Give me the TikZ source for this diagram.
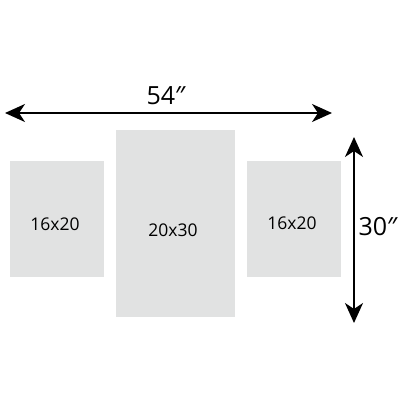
\documentclass[tikz,border=0pt]{standalone}
\usepackage{fontspec}
\setmainfont{Open Sans}
\newfontfamily\primefont{Noto Sans}
\usetikzlibrary{arrows.meta}
\definecolor{panel}{HTML}{E1E2E2}
\begin{document}
\begin{tikzpicture}[x=1pt,y=-1pt,
  panelbox/.style={fill=panel,draw=none,minimum width=#1},
  lbl/.style={inner sep=0pt,font=\fontsize{17.5}{18}\selectfont},
  dimlbl/.style={inner sep=0pt,font=\fontsize{25}{26}\selectfont},
  dimline/.style={line width=2pt,{Stealth[length=20pt,width=18pt,inset=6pt]}-{Stealth[length=20pt,width=18pt,inset=6pt]}}]
\useasboundingbox (0,0) rectangle (404,404);
\fill[panel] (10,161) rectangle (104,277);
\fill[panel] (116,130) rectangle (235,317);
\fill[panel] (247,161) rectangle (341,277);
\node[lbl] (a) at (55,224) {16x20};
\node[lbl] (b) at (173,230) {20x30};
\node[lbl] (c) at (292,223) {16x20};
\coordinate (hl) at (5,113);
\coordinate (hr) at (332,113);
\coordinate (vt) at (354,137);
\coordinate (vb) at (354,323);
\draw[dimline] (hl) -- (hr);
\draw[dimline] (vt) -- (vb);
\node[dimlbl] (w) at (166,96) {54{\primefont ″}};
\node[dimlbl] (h) at (378,227) {30{\primefont ″}};
\end{tikzpicture}
\end{document}
